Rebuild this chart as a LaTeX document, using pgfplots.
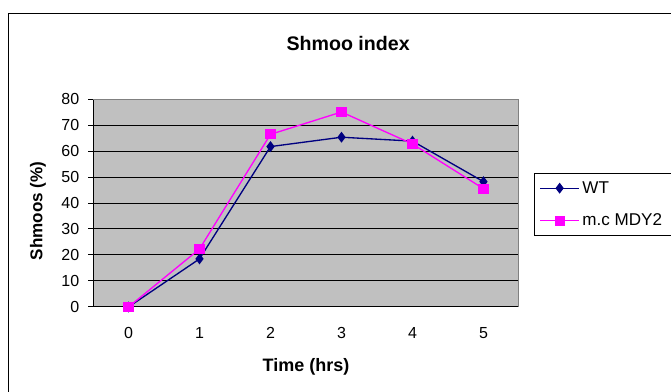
\documentclass[border=0pt]{standalone}
\usepackage{fontspec}
\setmainfont{Liberation Sans}
\usepackage{pgfplots}
\pgfplotsset{compat=1.18}
\definecolor{wt}{HTML}{000080}
\definecolor{mdy}{HTML}{FF00FF}
\definecolor{pa}{HTML}{C0C0C0}
\definecolor{bd}{HTML}{808080}
\begin{document}
\begin{tikzpicture}[x=0.75pt,y=0.75pt]
\clip (0,0) rectangle (671,392);
\fill[white] (0,0) rectangle (671,392);
\draw[black, line width=0.75pt] (8,-10) -- (8,378) -- (690,378);
\begin{axis}[
  at={(69.75pt,63.75pt)}, anchor=south west,
  scale only axis, width=319.5pt, height=156pt,
  xmin=-0.5, xmax=5.5, ymin=0, ymax=80,
  clip=false,
  axis background/.style={fill=pa},
  axis lines=left, axis line style={-, black, line width=0.75pt},
  ytick={0,10,...,80},
  xtick={0,...,5},
  major x tick style={draw=none},
  extra x ticks={-0.5,0.5,...,5.5}, extra x tick labels={},
  extra x tick style={grid=none, major tick length=3.75pt, tick style={black, line width=0.75pt, draw=black}},
  tick align=outside, major tick length=3.75pt,
  ytick style={black, line width=0.75pt},
  ymajorgrids, grid style={black, line width=0.75pt},
  /pgf/number format/assume math mode=true,
  tick label style={font=\fontsize{12}{14}\selectfont},
  xticklabel style={yshift=-8pt},
  yticklabel style={xshift=-3pt},
  title={\textbf{Shmoo index}},
  title style={at={(0.599,1.269)}, anchor=center, yshift=-6pt, font=\fontsize{14.7}{16}\selectfont},
  xlabel={\textbf{Time (hrs)}},
  xlabel style={at={(0.5,-0.29)}, anchor=center, font=\fontsize{13.5}{15}\selectfont},
  ylabel={\textbf{Shmoos (\%)}},
  ylabel style={at={(-0.129,0.4615)}, anchor=center, rotate=0, font=\fontsize{12.8}{14}\selectfont},
  legend style={at={(1.035,0.644)}, anchor=north west, draw=black, fill=white,
    font=\fontsize{12.8}{14}\selectfont, row sep=10pt, inner sep=4pt,
    cells={anchor=west}},
  legend image code/.code={\draw[mark repeat=2,mark phase=2,#1] plot coordinates {(0pt,0pt) (14.6pt,0pt) (29.2pt,0pt)};},
]
\addplot[wt, line width=1pt, mark=diamond*, mark size=3.3pt, mark options={solid, fill=wt}]
  coordinates {(0,0) (1,18.5) (2,61.7) (3,65.3) (4,63.8) (5,48.2)};
\addlegendentry{WT}
\addplot[mdy, line width=1pt, mark=square*, mark size=3.3pt, mark options={solid, fill=mdy}]
  coordinates {(0,0) (1,22.3) (2,66.4) (3,75) (4,62.7) (5,45.5)};
\addlegendentry{\makebox[75pt][l]{m.c MDY2}}
\draw[bd, line width=0.75pt] (rel axis cs:0,1) -- (rel axis cs:1,1) -- (rel axis cs:1,0);
\end{axis}
\end{tikzpicture}
\end{document}
